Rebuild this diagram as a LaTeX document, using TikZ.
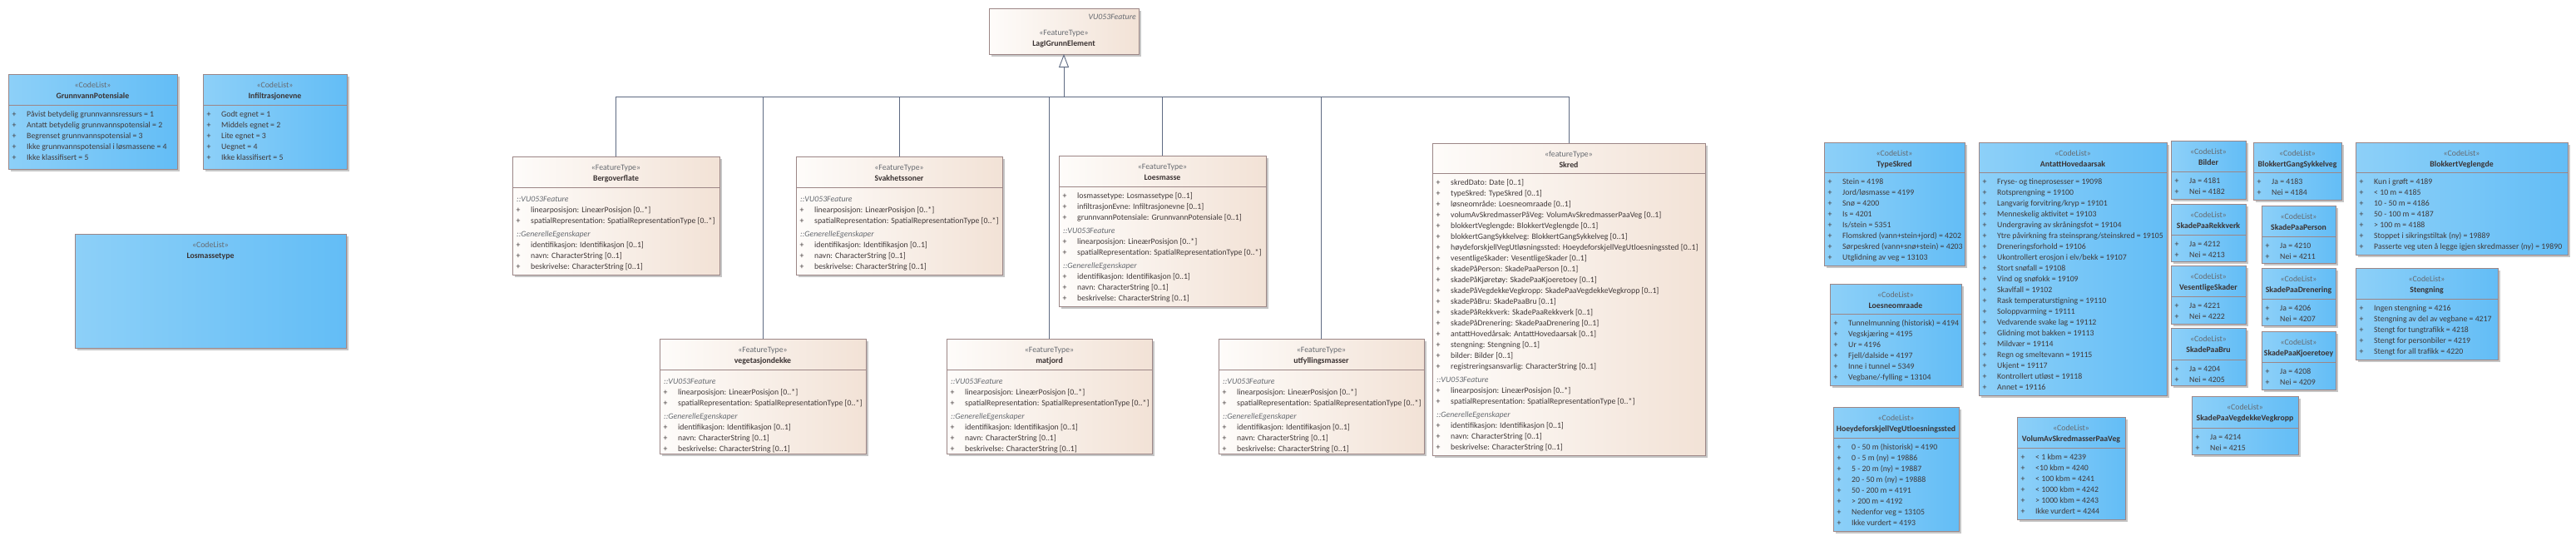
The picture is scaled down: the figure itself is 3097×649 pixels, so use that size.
\documentclass[tikz,border=0pt]{standalone}
\usepackage{fontspec}
\setmainfont{Carlito}
\usetikzlibrary{arrows.meta}
\definecolor{ftL}{HTML}{FEFCFA}
\definecolor{ftR}{HTML}{F2E2D6}
\definecolor{clL}{HTML}{8DD0F8}
\definecolor{clR}{HTML}{63BDF6}
\definecolor{bord}{HTML}{9C8686}
\definecolor{shad}{HTML}{C6C6C6}
\definecolor{conn}{HTML}{5E6A82}
\definecolor{txc}{HTML}{403838}
\definecolor{stc}{HTML}{666A70}
\newcommand\ufs{\fontsize{9.8}{12}\selectfont}
\tikzset{
  box/.style={draw=bord, line width=0.9pt, inner sep=0pt, outer sep=0pt, anchor=north west},
  ft/.style={box, left color=ftL, right color=ftR},
  cl/.style={box, left color=clL, right color=clR},
  tx/.style={font=\ufs, text=txc, inner sep=0pt},
  stx/.style={tx, text=stc},
  ttl/.style={tx, font=\ufs\bfseries, text=txc!90!black},
  itx/.style={tx, font=\ufs\itshape, text=stc},
  conn/.style={draw=conn, line width=0.9pt},
}
% box: name, style, x1, y1, x2, y2, divider y (may be empty)
\newcommand\ubox[7]{%
  \fill[shad] ({#3+3},{#4+3}) rectangle ({#5+3},{#6+3});
  \pgfmathsetmacro\bw{#5-#3}\pgfmathsetmacro\bh{#6-#4}%
  \node[#2, minimum width=\bw pt, minimum height=\bh pt] (#1) at (#3,#4) {};
  \if\relax\detokenize{#7}\relax\else\draw[draw=bord, line width=0.9pt] (#3,#7) -- (#5,#7);\fi
}
% header: x1, x2, top, stereotype, name
\newcommand\uhead[5]{%
  \node[stx, anchor=base] at ({(#1+#2)/2},{#3+16}) {#4};
  \node[ttl, anchor=base] at ({(#1+#2)/2},{#3+29}) {#5};
}
\newcommand\urows[2]{\xdef\rx{#1}\xdef\ry{#2}}
\newcommand\uattr[1]{%
  \node[tx, anchor=base] at ({\rx+7},{\ry+3.5}) {+};
  \node[tx, anchor=base west] at ({\rx+22},{\ry+3.5}) {#1};
  \pgfmathsetmacro\tmpy{\ry+13}\xdef\ry{\tmpy}}
\newcommand\usect[1]{%
  \pgfmathsetmacro\tmpy{\ry+3}\xdef\ry{\tmpy}%
  \node[itx, anchor=base west] at ({\rx+5},{\ry+3.5}) {#1};
  \pgfmathsetmacro\tmpy{\ry+13}\xdef\ry{\tmpy}}
\newcommand\ustd{%
  \usect{::VU053Feature}
  \uattr{linearposisjon: LineærPosisjon [0..*]}
  \uattr{spatialRepresentation: SpatialRepresentationType [0..*]}
  \usect{::GenerelleEgenskaper}
  \uattr{identifikasjon: Identifikasjon [0..1]}
  \uattr{navn: CharacterString [0..1]}
  \uattr{beskrivelse: CharacterString [0..1]}}
\newcommand\ufeat[7]{% name, x1,y1,x2,y2,div, title
  \ubox{#1}{ft}{#2}{#3}{#4}{#5}{#6}
  \uhead{#2}{#4}{#3}{«FeatureType»}{#7}
  \pgfmathsetmacro\tmpy{#6+11}\urows{#2}{\tmpy}}
\newcommand\ucode[7]{% name, x1,y1,x2,y2,div, title
  \ubox{#1}{cl}{#2}{#3}{#4}{#5}{#6}
  \uhead{#2}{#4}{#3}{«CodeList»}{#7}
  \pgfmathsetmacro\tmpy{#6+11}\urows{#2}{\tmpy}}
\newcommand\uyn[2]{\uattr{Ja = #1}\uattr{Nei = #2}}

\begin{document}
\begin{tikzpicture}[x=1pt,y=-1pt]
\fill[white] (0,0) rectangle (3097,649);
\useasboundingbox (0,0) rectangle (3097,649);

% ---------- left code lists ----------
\ucode{gp}{10}{89}{213}{203}{126}{GrunnvannPotensiale}
\uattr{Påvist betydelig grunnvannsressurs = 1}
\uattr{Antatt betydelig grunnvannspotensial = 2}
\uattr{Begrenset grunnvannspotensial = 3}
\uattr{Ikke grunnvannspotensial i løsmassene = 4}
\uattr{Ikke klassifisert = 5}

\ucode{ie}{244}{89}{417}{203}{126}{Infiltrasjonevne}
\uattr{Godt egnet = 1}
\uattr{Middels egnet = 2}
\uattr{Lite egnet = 3}
\uattr{Uegnet = 4}
\uattr{Ikke klassifisert = 5}

\ubox{lt}{cl}{90}{281}{416}{418}{}
\uhead{90}{416}{281}{«CodeList»}{Losmassetype}

% ---------- feature types ----------
\ubox{lag}{ft}{1189}{10}{1369}{65}{}
\node[itx, anchor=base east] at (1366,23) {VU053Feature};
\node[stx, anchor=base] at (1279,42) {«FeatureType»};
\node[ttl, anchor=base] at (1279,55) {LagIGrunnElement};

\ufeat{berg}{616}{188}{865}{330}{225}{Bergoverflate}
\ustd
\ufeat{svak}{957}{188}{1205}{330}{225}{Svakhetssoner}
\ustd
\ufeat{loes}{1273}{187}{1522}{368}{224}{Loesmasse}
\uattr{losmassetype: Losmassetype [0..1]}
\uattr{infiltrasjonEvne: Infiltrasjonevne [0..1]}
\uattr{grunnvannPotensiale: GrunnvannPotensiale [0..1]}
\ustd
\ufeat{veg}{793}{407}{1041}{545}{444}{vegetasjondekke}
\ustd
\ufeat{mat}{1138}{407}{1385}{545}{444}{matjord}
\ustd
\ufeat{utf}{1465}{407}{1712}{545}{444}{utfyllingsmasser}
\ustd

\ubox{skred}{ft}{1722}{172}{2050}{547}{208}
\uhead{1722}{2050}{172}{«featureType»}{Skred}
\urows{1722}{219}
\uattr{skredDato: Date [0..1]}
\uattr{typeSkred: TypeSkred [0..1]}
\uattr{løsneområde: Loesneomraade [0..1]}
\uattr{volumAvSkredmasserPåVeg: VolumAvSkredmasserPaaVeg [0..1]}
\uattr{blokkertVeglengde: BlokkertVeglengde [0..1]}
\uattr{blokkertGangSykkelveg: BlokkertGangSykkelveg [0..1]}
\uattr{høydeforskjellVegUtløsningssted: HoeydeforskjellVegUtloesningssted [0..1]}
\uattr{vesentligeSkader: VesentligeSkader [0..1]}
\uattr{skadePåPerson: SkadePaaPerson [0..1]}
\uattr{skadePåKjøretøy: SkadePaaKjoeretoey [0..1]}
\uattr{skadePåVegdekkeVegkropp: SkadePaaVegdekkeVegkropp [0..1]}
\uattr{skadePåBru: SkadePaaBru [0..1]}
\uattr{skadePåRekkverk: SkadePaaRekkverk [0..1]}
\uattr{skadePåDrenering: SkadePaaDrenering [0..1]}
\uattr{antattHovedårsak: AntattHovedaarsak [0..1]}
\uattr{stengning: Stengning [0..1]}
\uattr{bilder: Bilder [0..1]}
\uattr{registreringsansvarlig: CharacterString [0..1]}
\ustd

% ---------- generalisation ----------
\coordinate (bus) at (1279,116);
\draw[conn, -{Triangle[open, length=16pt, width=12pt]}] (bus) -- (lag.south);
\foreach \c in {berg,veg,svak,mat,loes,utf,skred} \draw[conn] (\c.north) |- (bus);

% ---------- right code lists ----------
\ucode{ts}{2193}{171}{2362}{319}{207}{TypeSkred}
\uattr{Stein = 4198}
\uattr{Jord/løsmasse = 4199}
\uattr{Snø = 4200}
\uattr{Is = 4201}
\uattr{Is/stein = 5351}
\uattr{Flomskred (vann+stein+jord) = 4202}
\uattr{Sørpeskred (vann+snø+stein) = 4203}
\uattr{Utglidning av veg = 13103}

\ucode{ah}{2379}{171}{2605}{475}{207}{AntattHovedaarsak}
\uattr{Fryse- og tineprosesser = 19098}
\uattr{Rotsprengning = 19100}
\uattr{Langvarig forvitring/kryp = 19101}
\uattr{Menneskelig aktivitet = 19103}
\uattr{Undergraving av skråningsfot = 19104}
\uattr{Ytre påvirkning fra steinsprang/steinskred = 19105}
\uattr{Dreneringsforhold = 19106}
\uattr{Ukontrollert erosjon i elv/bekk = 19107}
\uattr{Stort snøfall = 19108}
\uattr{Vind og snøfokk = 19109}
\uattr{Skavlfall = 19102}
\uattr{Rask temperaturstigning = 19110}
\uattr{Soloppvarming = 19111}
\uattr{Vedvarende svake lag = 19112}
\uattr{Glidning mot bakken = 19113}
\uattr{Mildvær = 19114}
\uattr{Regn og smeltevann = 19115}
\uattr{Ukjent = 19117}
\uattr{Kontrollert utløst = 19118}
\uattr{Annet = 19116}

\ucode{lo}{2200}{341}{2358}{463}{377}{Loesneomraade}
\uattr{Tunnelmunning (historisk) = 4194}
\uattr{Vegskjæring = 4195}
\uattr{Ur = 4196}
\uattr{Fjell/dalside = 4197}
\uattr{Inne i tunnel = 5349}
\uattr{Vegbane/-fylling = 13104}

\ucode{hf}{2204}{489}{2355}{638}{526}{HoeydeforskjellVegUtloesningssted}
\uattr{0 - 50 m (historisk) = 4190}
\uattr{0 - 5 m (ny) = 19886}
\uattr{5 - 20 m (ny) = 19887}
\uattr{20 - 50 m (ny) = 19888}
\uattr{50 - 200 m = 4191}
\uattr{> 200 m = 4192}
\uattr{Nedenfor veg = 13105}
\uattr{Ikke vurdert = 4193}

\ucode{vs}{2425}{501}{2555}{624}{538}{VolumAvSkredmasserPaaVeg}
\uattr{< 1 kbm = 4239}
\uattr{<10 kbm = 4240}
\uattr{< 100 kbm = 4241}
\uattr{< 1000 kbm = 4242}
\uattr{> 1000 kbm = 4243}
\uattr{Ikke vurdert = 4244}

\ucode{bi}{2610}{169}{2700}{239}{206}{Bilder}
\uyn{4181}{4182}
\ucode{bg}{2709}{171}{2815}{240}{207}{BlokkertGangSykkelveg}
\uyn{4183}{4184}
\ucode{bv}{2832}{171}{3087}{306}{207}{BlokkertVeglengde}
\uattr{Kun i grøft = 4189}
\uattr{< 10 m = 4185}
\uattr{10 - 50 m = 4186}
\uattr{50 - 100 m = 4187}
\uattr{> 100 m = 4188}
\uattr{Stoppet i sikringstiltak (ny) = 19889}
\uattr{Passerte veg uten å legge igjen skredmasser (ny) = 19890}

\ucode{sr}{2610}{245}{2700}{314}{282}{SkadePaaRekkverk}
\uyn{4212}{4213}
\ucode{sp}{2719}{247}{2808}{316}{284}{SkadePaaPerson}
\uyn{4210}{4211}
\ucode{vsk}{2610}{319}{2700}{389}{356}{VesentligeSkader}
\uyn{4221}{4222}
\ucode{sd}{2719}{322}{2808}{391}{359}{SkadePaaDrenering}
\uyn{4206}{4207}
\ucode{st}{2832}{322}{3003}{432}{359}{Stengning}
\uattr{Ingen stengning = 4216}
\uattr{Stengning av del av vegbane = 4217}
\uattr{Stengt for tungtrafikk = 4218}
\uattr{Stengt for personbiler = 4219}
\uattr{Stengt for all trafikk = 4220}
\ucode{sb}{2610}{394}{2700}{463}{432}{SkadePaaBru}
\uyn{4204}{4205}
\ucode{sk}{2719}{398}{2808}{468}{435}{SkadePaaKjoeretoey}
\uyn{4208}{4209}
\ucode{svv}{2635}{476}{2763}{546}{514}{SkadePaaVegdekkeVegkropp}
\uyn{4214}{4215}
\end{tikzpicture}
\end{document}
